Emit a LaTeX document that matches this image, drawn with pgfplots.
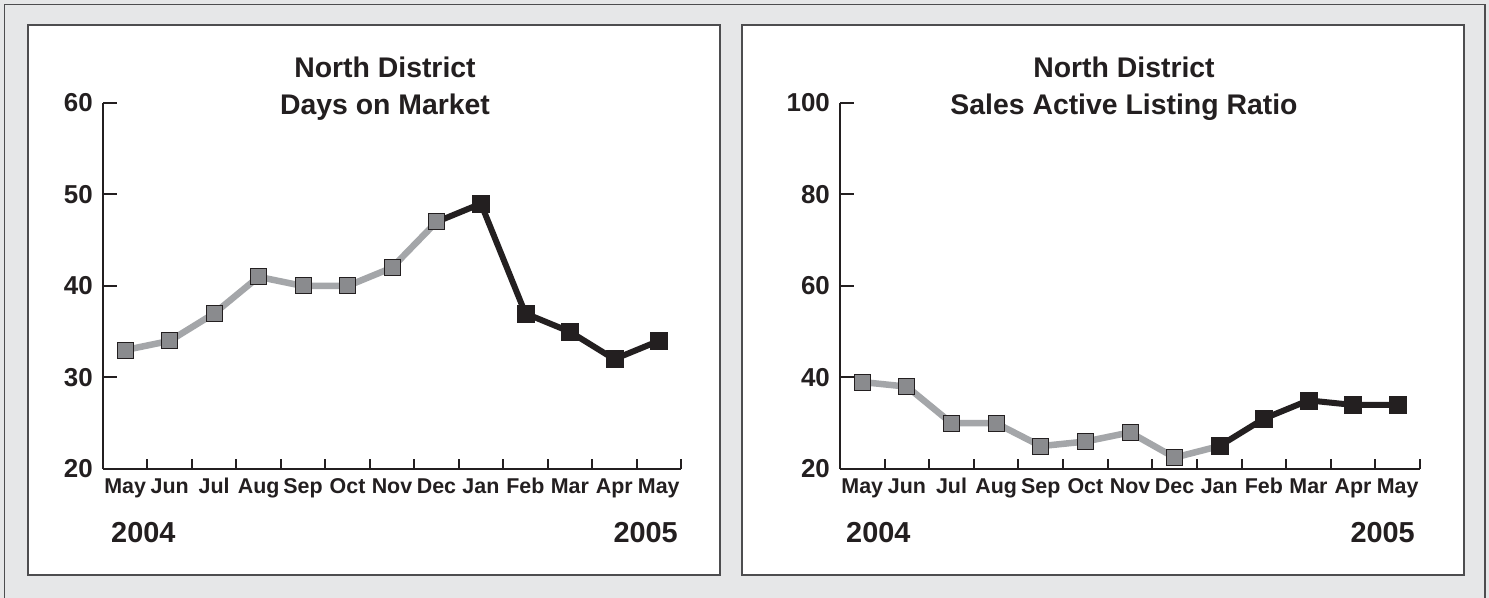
\documentclass[border=0pt]{standalone}
\usepackage{pgfplots}
\pgfplotsset{compat=1.18}
\usepackage{fontspec}
\setmainfont{Liberation Sans}
\definecolor{bgc}{HTML}{E6E7E8}
\definecolor{ink}{HTML}{231F20}
\definecolor{frame}{HTML}{4D4D4F}
\definecolor{gline}{HTML}{A4A6A9}
\definecolor{gmark}{HTML}{8A8B8E}
\pgfplotsset{
  panel/.style={
    scale only axis,
    height=366bp,
    xmin=-0.5, xmax=12.5,
    axis x line=bottom, axis y line=left,
    axis line style={-, ink, line width=2bp},
    tick style={ink, line width=2bp},
    tick align=inside,
    xtick={0,...,12},
    xticklabels={May,Jun,Jul,Aug,Sep,Oct,Nov,Dec,Jan,Feb,Mar,Apr,May},
    major x tick style={draw=none},
    minor xtick={-0.5,0.5,...,12.5},
    minor tick length=10bp,
    major tick length=14bp,
    xticklabel style={anchor=base, yshift=-25bp, inner sep=0pt, font=\bfseries\fontsize{21.5}{21.5}\selectfont, text=ink},
    yticklabel style={anchor=east, inner sep=0pt, xshift=-10bp, font=\bfseries\fontsize{26}{26}\selectfont, text=ink},
    /pgf/number format/assume math mode=true,
    clip=false,
  },
  gl/.style={gline, line width=6.5bp, no markers},
  bl/.style={ink, line width=6bp, no markers},
  gm/.style={only marks, mark=square*, mark size=8bp, mark options={fill=gmark, draw=ink, line width=1bp}},
  bm/.style={only marks, mark=square*, mark size=8.5bp, mark options={fill=ink, draw=ink, line width=0.5bp}},
}
\begin{document}
\begin{tikzpicture}[x=1bp,y=1bp]
\useasboundingbox (0,0) rectangle (1489,598);
\fill[bgc] (0,0) rectangle (1489,598);
\draw[frame, line width=1.5bp] (4.5,0) -- (4.5,593.5) -- (1485,593.5) -- (1485,0);
\filldraw[fill=white, draw=frame, line width=2bp] (28,23) rectangle (720,573);
\filldraw[fill=white, draw=frame, line width=2bp] (742,23) rectangle (1464,573);

\begin{axis}[panel, at={(103bp,129bp)}, anchor=south west, width=578bp,
  ymin=20, ymax=60, ytick={20,30,40,50,60}]
\addplot[gl] coordinates {(0,33)(1,34)(2,37)(3,41)(4,40)(5,40)(6,42)(7,47)};
\addplot[bl] coordinates {(7,47)(8,49)(9,37)(10,35)(11,32)(12,34)};
\addplot[gm] coordinates {(0,33)(1,34)(2,37)(3,41)(4,40)(5,40)(6,42)(7,47)};
\addplot[bm] coordinates {(8,49)(9,37)(10,35)(11,32)(12,34)};
\end{axis}

\begin{axis}[panel, at={(840bp,129bp)}, anchor=south west, width=580bp,
  ymin=20, ymax=100, ytick={20,40,60,80,100}]
\addplot[gl] coordinates {(0,39)(1,38)(2,30)(3,30)(4,25)(5,26)(6,28)(7,22.5)(8,25)};
\addplot[bl] coordinates {(8,25)(9,31)(10,35)(11,34)(12,34)};
\addplot[gm] coordinates {(0,39)(1,38)(2,30)(3,30)(4,25)(5,26)(6,28)(7,22.5)};
\addplot[bm] coordinates {(8,25)(9,31)(10,35)(11,34)(12,34)};
\end{axis}

\begin{scope}[every node/.style={text=ink, inner sep=0pt}]
\node[anchor=base, font=\bfseries\fontsize{28.5}{28.5}\selectfont] at (385,520) {North District};
\node[anchor=base, font=\bfseries\fontsize{28.5}{28.5}\selectfont] at (385,483) {Days on Market};
\node[anchor=base, font=\bfseries\fontsize{28.5}{28.5}\selectfont] at (1124,520) {North District};
\node[anchor=base, font=\bfseries\fontsize{28.5}{28.5}\selectfont] at (1124,483) {Sales Active Listing Ratio};
\node[anchor=base west, font=\bfseries\fontsize{29}{29}\selectfont] at (111,55) {2004};
\node[anchor=base east, font=\bfseries\fontsize{29}{29}\selectfont] at (678,55) {2005};
\node[anchor=base west, font=\bfseries\fontsize{29}{29}\selectfont] at (846,55) {2004};
\node[anchor=base east, font=\bfseries\fontsize{29}{29}\selectfont] at (1415,55) {2005};
\end{scope}
\end{tikzpicture}
\end{document}
